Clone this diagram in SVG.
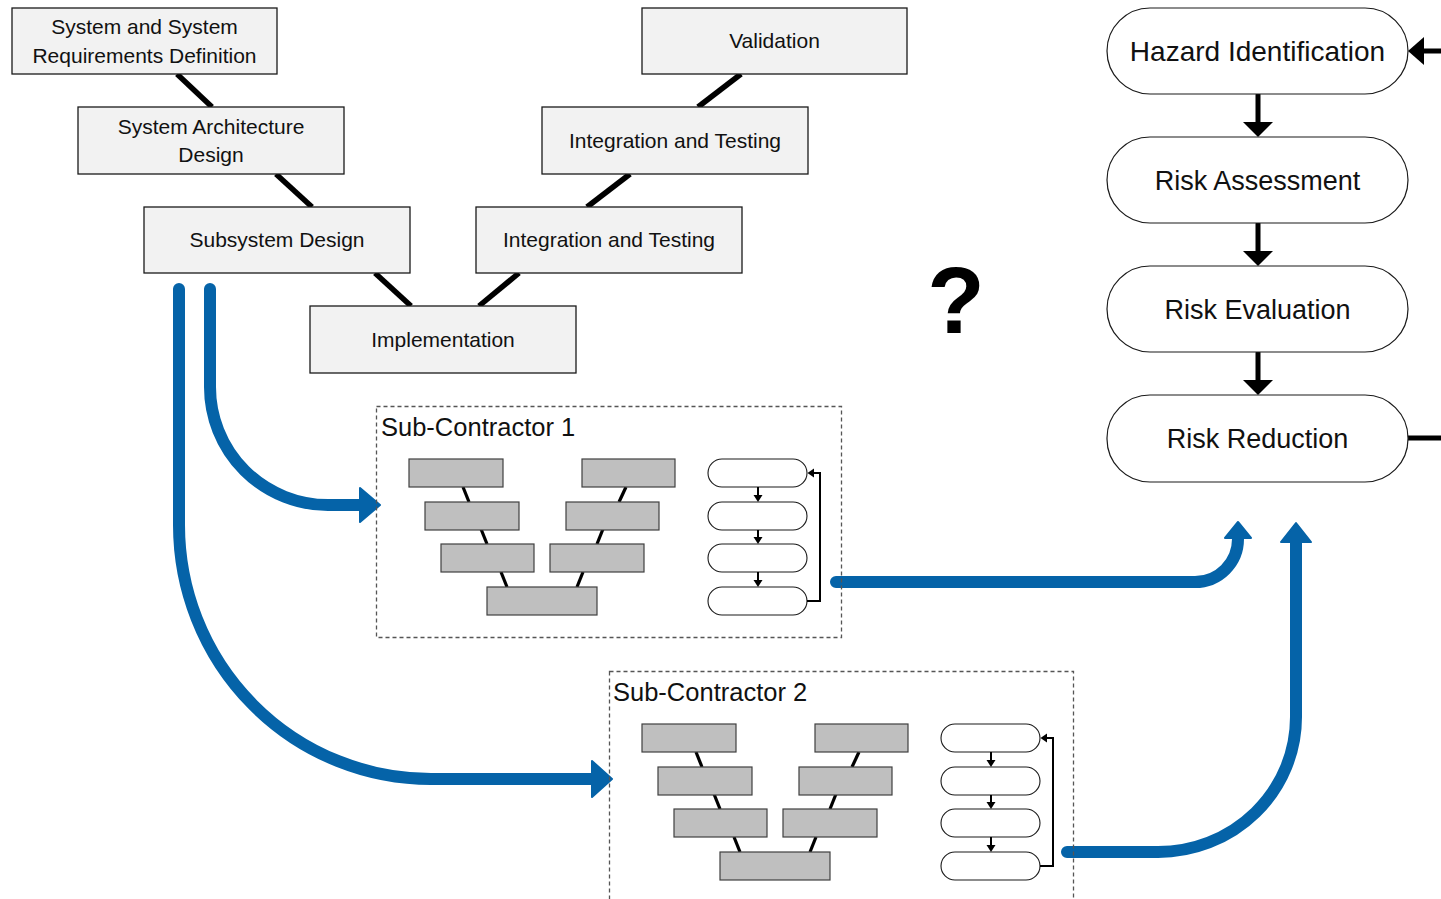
<svg xmlns="http://www.w3.org/2000/svg" xmlns:xlink="http://www.w3.org/1999/xlink" width="1441" height="899" viewBox="0 0 1441 899">
<style>
.box{fill:#f2f2f2;stroke:#1a1a1a;stroke-width:1.3}
.st{fill:#fff;stroke:#1a1a1a;stroke-width:1.2}
.t{font-family:"Liberation Sans",Arial,sans-serif;font-size:21px;fill:#111;text-anchor:middle}
.tl{font-family:"Liberation Sans",Arial,sans-serif;font-size:27px;fill:#111;text-anchor:middle}
.sc{font-family:"Liberation Sans",Arial,sans-serif;font-size:25.5px;fill:#111}
.vl{stroke:#000;stroke-width:5.5;fill:none}
.bl{stroke:#000;stroke-width:5;fill:none;stroke-linecap:round}
.bh{fill:#000}
.blue{stroke:#0563a8;stroke-width:12;fill:none;stroke-linecap:round}
.bhead{fill:#0563a8;stroke:#0563a8;stroke-width:2;stroke-linejoin:round}
.dash{fill:none;stroke:#555;stroke-width:1.3;stroke-dasharray:4 3}
.mb{fill:#bfbfbf;stroke:#404040;stroke-width:1.2}
.ml{stroke:#000;stroke-width:3.2;fill:none}
.ms{fill:#fff;stroke:#1a1a1a;stroke-width:1.1}
.ma{stroke:#000;stroke-width:2;fill:none}
</style>
<defs>
<g id="mini">
<line class="ml" x1="463" y1="487" x2="469" y2="502"/>
<line class="ml" x1="481" y1="529" x2="487" y2="544"/>
<line class="ml" x1="501" y1="572" x2="507" y2="587"/>
<line class="ml" x1="577" y1="587" x2="583" y2="572"/>
<line class="ml" x1="597" y1="544" x2="603" y2="529"/>
<line class="ml" x1="619" y1="502" x2="626" y2="487"/>
<rect class="mb" x="409" y="459" width="94" height="28"/>
<rect class="mb" x="425" y="502" width="94" height="28"/>
<rect class="mb" x="441" y="544" width="93" height="28"/>
<rect class="mb" x="487" y="587" width="110" height="28"/>
<rect class="mb" x="582" y="459" width="93" height="28"/>
<rect class="mb" x="566" y="502" width="93" height="28"/>
<rect class="mb" x="550" y="544" width="94" height="28"/>
<rect class="ms" x="708" y="459" width="99" height="28" rx="14"/>
<rect class="ms" x="708" y="502" width="99" height="28" rx="14"/>
<rect class="ms" x="708" y="544" width="99" height="28" rx="14"/>
<rect class="ms" x="708" y="587" width="99" height="28" rx="14"/>
<line class="ma" x1="758" y1="487" x2="758" y2="496"/>
<polygon class="bh" points="753.5,495 762.5,495 758,502"/>
<line class="ma" x1="758" y1="530" x2="758" y2="538"/>
<polygon class="bh" points="753.5,537 762.5,537 758,544"/>
<line class="ma" x1="758" y1="572" x2="758" y2="581"/>
<polygon class="bh" points="753.5,580 762.5,580 758,587"/>
<polyline class="ma" points="807,601 820,601 820,473 813,473"/>
<polygon class="bh" points="814,468.5 814,477.5 807.5,473"/>
</g>
</defs>

<g id="connectors">
<line class="vl" x1="177" y1="74" x2="212" y2="107"/>
<line class="vl" x1="276" y1="174" x2="312" y2="207"/>
<line class="vl" x1="375" y1="273" x2="411" y2="306"/>
<line class="vl" x1="479" y1="306" x2="519" y2="273"/>
<line class="vl" x1="587" y1="207" x2="630" y2="174"/>
<line class="vl" x1="698" y1="107" x2="741" y2="74"/>

<line class="bl" x1="1258" y1="95" x2="1258" y2="123"/>
<polygon class="bh" points="1243,122 1273,122 1258,137"/>
<line class="bl" x1="1258" y1="224" x2="1258" y2="252"/>
<polygon class="bh" points="1243,251 1273,251 1258,266"/>
<line class="bl" x1="1258" y1="353" x2="1258" y2="381"/>
<polygon class="bh" points="1243,380 1273,380 1258,395"/>
<line class="bl" x1="1422" y1="51" x2="1445" y2="51"/>
<polygon class="bh" points="1424,37 1424,65 1408,51"/>
<line class="bl" x1="1408" y1="438" x2="1445" y2="438"/>

<path class="blue" d="M210,289 V387 A118,118 0 0 0 328,505 H362"/>
<polygon class="bhead" points="360,488 380,505 360,522"/>
<path class="blue" d="M179,289 V525 A252,254 0 0 0 431,779 H594"/>
<polygon class="bhead" points="592,761 612,779 592,797"/>
<path class="blue" d="M836,582 H1195 A43,43 0 0 0 1238,539"/>
<polygon class="bhead" points="1225,538 1238,522 1251,538"/>
<path class="blue" d="M1067,852 H1158 A138,135 0 0 0 1296,717 V542"/>
<polygon class="bhead" points="1281,542 1296,523 1311,542"/>
</g>

<g id="n-sysreq"><rect class="box" x="12" y="8" width="265" height="66"/><text class="t" x="144.5" y="34">System and System</text><text class="t" x="144.5" y="63">Requirements Definition</text></g>
<g id="n-arch"><rect class="box" x="78" y="107" width="266" height="67"/><text class="t" x="211" y="134">System Architecture</text><text class="t" x="211" y="162">Design</text></g>
<g id="n-subsys"><rect class="box" x="144" y="207" width="266" height="66"/><text class="t" x="277" y="247">Subsystem Design</text></g>
<g id="n-impl"><rect class="box" x="310" y="306" width="266" height="67"/><text class="t" x="443" y="347">Implementation</text></g>
<g id="n-int1"><rect class="box" x="476" y="207" width="266" height="66"/><text class="t" x="609" y="247">Integration and Testing</text></g>
<g id="n-int2"><rect class="box" x="542" y="107" width="266" height="67"/><text class="t" x="675" y="148">Integration and Testing</text></g>
<g id="n-valid"><rect class="box" x="642" y="8" width="265" height="66"/><text class="t" x="774.5" y="48">Validation</text></g>

<g id="n-question"><text x="956" y="333" style="font-family:'Liberation Sans',Arial,sans-serif;font-size:94px;font-weight:bold;fill:#000;text-anchor:middle">?</text></g>

<g id="n-hazard"><rect class="st" x="1107" y="8" width="301" height="86" rx="43"/><text class="tl" x="1257.5" y="61" style="font-size:28px">Hazard Identification</text></g>
<g id="n-assess"><rect class="st" x="1107" y="137" width="301" height="86" rx="43"/><text class="tl" x="1257.5" y="190">Risk Assessment</text></g>
<g id="n-eval"><rect class="st" x="1107" y="266" width="301" height="86" rx="43"/><text class="tl" x="1257.5" y="319">Risk Evaluation</text></g>
<g id="n-reduce"><rect class="st" x="1107" y="395" width="301" height="87" rx="43"/><text class="tl" x="1257.5" y="448">Risk Reduction</text></g>

<g id="n-sub1">
<rect class="dash" x="376.5" y="406.5" width="465" height="231"/>
<text class="sc" x="381" y="436">Sub-Contractor 1</text>
<use xlink:href="#mini"/>
</g>
<g id="n-sub2">
<rect class="dash" x="609.5" y="671.5" width="464" height="231"/>
<text class="sc" x="613" y="701">Sub-Contractor 2</text>
<use xlink:href="#mini" transform="translate(233,265)"/>
</g>
</svg>
